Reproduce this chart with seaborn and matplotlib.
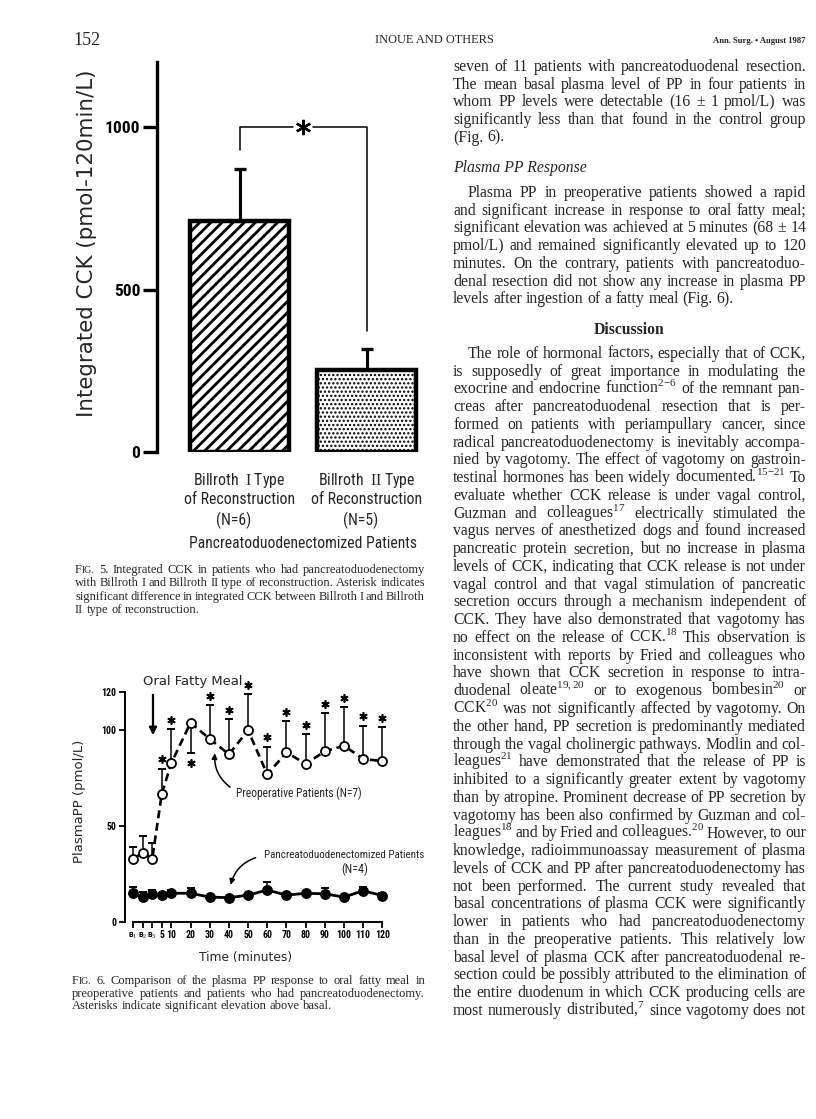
import matplotlib
matplotlib.use("Agg")
import matplotlib.pyplot as plt
from matplotlib import font_manager
from matplotlib.transforms import blended_transform_factory
import numpy as np
import pandas as pd
import seaborn as sns


# -------------------------------------
# Data - Fig. 5 (integrated CCK)
# -------------------------------------
cck_groups = ["Billroth I", "Billroth II"]
cck_mean = [710, 253]
cck_sem = [160, 65]
cck_hatch = ["///", "...."]
cck_n = ["(N=6)", "(N=5)"]
cck_roman = ["I", "II"]

# -------------------------------------
# Data - Fig. 6 (plasma PP)
# -------------------------------------
pp_time = [-10, -5, 0, 5, 10, 20, 30, 40, 50, 60, 70, 80, 90, 100, 110, 120]
pp_labels = ["B$_1$", "B$_2$", "B$_3$", "5", "10", "20", "30", "40", "50",
             "60", "70", "80", "90", "100", "110", "120"]
pre_mean = [33, 36, 33, 67, 83, 104, 95.5, 87.5, 100, 77, 88.5, 82.5, 89, 92, 85, 84]
pre_up = [6, 9, 8, 13, 17.5, 0, 17.5, 18.5, 19, 14.5, 16.5, 15.5, 20, 20, 17.5, 17.5]
pre_down = [0, 0, 0, 0, 0, 16, 0, 0, 0, 0, 0, 0, 0, 0, 0, 0]
pre_star = [False, False, False] + [True] * 13
post_mean = [15, 13, 14.5, 14, 15, 15, 13, 12.7, 14, 16.7, 14, 15, 14.7, 13, 16.3, 13.8]
post_up = [3.4, 2.8, 2.2, 1, 1.5, 3, 0, 0, 0.8, 4.3, 0.8, 1, 3.3, 0, 2.1, 1.2]


# -------------------------------------
# Page text
# -------------------------------------
cap5 = [
    "F|IG. 5. Integrated CCK in patients who had pancreatoduodenectomy",
    "with Billroth I and Billroth II type of reconstruction. Asterisk indicates",
    "significant difference in integrated CCK between Billroth I and Billroth",
    "II type of reconstruction.",
]
cap6 = [
    "F|IG. 6. Comparison of the plasma PP response to oral fatty meal in",
    "preoperative patients and patients who had pancreatoduodenectomy.",
    "Asterisks indicate significant elevation above basal.",
]
body_a = [
    "seven of 11 patients with pancreatoduodenal resection.",
    "The mean basal plasma level of PP in four patients in",
    "whom PP levels were detectable (16 ± 1 pmol/L) was",
    "significantly less than that found in the control group",
    "(Fig. 6).",
]
body_b = [
    "Plasma PP in preoperative patients showed a rapid",
    "and significant increase in response to oral fatty meal;",
    "significant elevation was achieved at 5 minutes (68 ± 14",
    "pmol/L) and remained significantly elevated up to 120",
    "minutes. On the contrary, patients with pancreatoduo-",
    "denal resection did not show any increase in plasma PP",
    "levels after ingestion of a fatty meal (Fig. 6).",
]
body_c = [
    "The role of hormonal factors, especially that of CCK,",
    "is supposedly of great importance in modulating the",
    "exocrine and endocrine function$^{2{-}6}$ of the remnant pan-",
    "creas after pancreatoduodenal resection that is per-",
    "formed on patients with periampullary cancer, since",
    "radical pancreatoduodenectomy is inevitably accompa-",
    "nied by vagotomy. The effect of vagotomy on gastroin-",
    "testinal hormones has been widely documented.$^{15{-}21}$ To",
    "evaluate whether CCK release is under vagal control,",
    "Guzman and colleagues$^{17}$ electrically stimulated the",
    "vagus nerves of anesthetized dogs and found increased",
    "pancreatic protein secretion, but no increase in plasma",
    "levels of CCK, indicating that CCK release is not under",
    "vagal control and that vagal stimulation of pancreatic",
    "secretion occurs through a mechanism independent of",
    "CCK. They have also demonstrated that vagotomy has",
    "no effect on the release of CCK.$^{18}$ This observation is",
    "inconsistent with reports by Fried and colleagues who",
    "have shown that CCK secretion in response to intra-",
    "duodenal oleate$^{19,20}$ or to exogenous bombesin$^{20}$ or",
    "CCK$^{20}$ was not significantly affected by vagotomy. On",
    "the other hand, PP secretion is predominantly mediated",
    "through the vagal cholinergic pathways. Modlin and col-",
    "leagues$^{21}$ have demonstrated that the release of PP is",
    "inhibited to a significantly greater extent by vagotomy",
    "than by atropine. Prominent decrease of PP secretion by",
    "vagotomy has been also confirmed by Guzman and col-",
    "leagues$^{18}$ and by Fried and colleagues.$^{20}$ However, to our",
    "knowledge, radioimmunoassay measurement of plasma",
    "levels of CCK and PP after pancreatoduodenectomy has",
    "not been performed. The current study revealed that",
    "basal concentrations of plasma CCK were significantly",
    "lower in patients who had pancreatoduodenectomy",
    "than in the preoperative patients. This relatively low",
    "basal level of plasma CCK after pancreatoduodenal re-",
    "section could be possibly attributed to the elimination of",
    "the entire duodenum in which CCK producing cells are",
    "most numerously distributed,$^{7}$ since vagotomy does not",
]


# -------------------------------------
# Style and fonts
# -------------------------------------
sns.set_theme(style="ticks", rc={"axes.edgecolor": "black",
                                 "xtick.color": "black",
                                 "ytick.color": "black"})

entries = font_manager.fontManager.ttflist
names = {f.name for f in entries}
NARROW, STRETCH = "Liberation Sans", "normal"
for cand in ["Liberation Sans Narrow", "Roboto Condensed", "Open Sans Condensed",
             "Noto Sans Condensed", "DejaVu Sans Condensed"]:
    if cand in names:
        NARROW = cand
        break
else:
    for f in entries:
        if f.name in ("Noto Sans", "DejaVu Sans", "Open Sans", "Roboto") and \
                f.stretch in ("condensed", "semi-condensed", 375):
            NARROW, STRETCH = f.name, "condensed"
            break
NK = dict(family=[NARROW, "DejaVu Sans"], fontstretch=STRETCH)

SERIF = "Liberation Serif"
plt.rcParams["font.family"] = ["DejaVu Sans"]
plt.rcParams["mathtext.fontset"] = "custom"
plt.rcParams["mathtext.rm"] = SERIF
plt.rcParams["mathtext.it"] = SERIF + ":italic"
plt.rcParams["mathtext.bf"] = SERIF + ":bold"
plt.rcParams["hatch.linewidth"] = 2.0
plt.rcParams["hatch.color"] = "black"

W, H = 816, 1119
fig = plt.figure(figsize=(W / 100, H / 100), dpi=100)
fig.patch.set_facecolor("white")
renderer = fig.canvas.get_renderer()


def fx(px):
    return px / W


def fy(py):
    return 1 - py / H


def fit(t, px):
    w = t.get_window_extent(renderer).width
    t.set_fontsize(t.get_fontsize() * px / w)
    return t


def label(x, y, s, width_px, rotation=0, **kw):
    t = fig.text(fx(x), fy(y), s, fontsize=10, **kw)
    fit(t, width_px)
    t.set_rotation(rotation)
    return t


def make_words(s, y, size, **kw):
    groups = []
    for w in s.split():
        g = []
        for k, p in enumerate(w.split("|")):
            sz = size if k == 0 else size * 0.78
            g.append(fig.text(0, fy(y), p, fontsize=sz, family=SERIF,
                              va="baseline", ha="left", **kw))
        groups.append(g)
    widths = [[t.get_window_extent(renderer).width for t in g] for g in groups]
    return groups, widths


def natural_width(s, size, space=0.16):
    groups, widths = make_words(s, 0, size)
    for g in groups:
        for t in g:
            t.remove()
    return sum(sum(w) for w in widths) + (len(groups) - 1) * size * 100 / 72 * space


def fit_size(lines, width, last_free=True, indent_first=0):
    sizes = []
    for i, s in enumerate(lines):
        if last_free and i == len(lines) - 1:
            continue
        avail = width - (indent_first if i == 0 else 0)
        sizes.append(10 * avail / natural_width(s, 10))
    return min(sizes)


def text_line(s, x0, x1, y, size, justify=True, indent=0, **kw):
    groups, widths = make_words(s, y, size, **kw)
    total = sum(sum(w) for w in widths)
    start = x0 + indent
    if justify and len(groups) > 1:
        gap = (x1 - start - total) / (len(groups) - 1)
    else:
        gap = size * 100 / 72 * 0.25
    x = start
    for g, ws in zip(groups, widths):
        for t, w in zip(g, ws):
            t.set_x(fx(x))
            x += w
        x += gap


# -------------------------------------
# Page header
# -------------------------------------
label(73, 45, "152", 27, family=SERIF, va="baseline")
label(375, 43, "INOUE AND OTHERS", 120, family=SERIF, va="baseline")
label(713, 43, "Ann. Surg. • August 1987", 93, family=SERIF,
      weight="bold", va="baseline")


# -------------------------------------
# Fig. 5 - bar chart
# -------------------------------------
ax5 = fig.add_axes([fx(157), fy(452), (420 - 157) / W, (452 - 62) / H])
df5 = pd.DataFrame({"group": cck_groups, "cck": cck_mean})
sns.barplot(data=df5, x="group", y="cck", ax=ax5, color="white", saturation=1,
            edgecolor="black", linewidth=3.2, width=0.78, errorbar=None)
for bar, h, hw in zip(ax5.patches, cck_hatch, [2.0, 1.1]):
    bar.set_hatch(h)
    if hasattr(bar, "set_hatch_linewidth"):
        bar.set_hatch_linewidth(hw)

xs = np.arange(len(cck_mean))
tops = np.array(cck_mean) + np.array(cck_sem)
ax5.vlines(xs, cck_mean, tops, color="black", lw=2.2, zorder=3)
ax5.plot(xs, tops, "_", color="black", ms=9, mew=2.4, zorder=3)

# significance bracket
yb = 1000
ax5.plot([0, 0, 0.42], [tops[0] + 60, yb, yb], color="black", lw=1.1)
ax5.plot([0.58, 1, 1], [yb, yb, tops[1] + 55], color="black", lw=1.1)
ax5.plot(0.5, yb, marker=(6, 2, 0), ms=11, mew=1.7, color="black")

ax5.set_xlim(-0.65, 1.42)
ax5.set_ylim(0, 1200)
ax5.set_yticks([0, 500, 1000])
ax5.set_xticks([])
ax5.set_xlabel("")
ax5.set_ylabel("")
sns.despine(ax=ax5, bottom=True)
ax5.spines["left"].set_linewidth(2.4)
ax5.tick_params(axis="y", length=10, width=2.4, pad=2, labelsize=12.5)
for t in ax5.get_yticklabels():
    t.set_family(NK["family"])
    t.set_stretch(STRETCH)
    t.set_weight("bold")

label(87, 243, "Integrated CCK (pmol-120min/L)", 347, rotation=90,
      ha="center", va="center")

tr5 = blended_transform_factory(ax5.transData, fig.transFigure)
ref = fig.text(0, 0, "of Reconstruction", fontsize=10, **NK)
fit(ref, 111)
cat_size = ref.get_fontsize()
ref.remove()
for i in range(len(cck_groups)):
    ax5.text(i, fy(480), "Billroth  $\\mathrm{" + cck_roman[i] + "}$ Type", transform=tr5,
             ha="center", va="center", fontsize=cat_size, **NK)
    ax5.text(i, fy(500), "of Reconstruction", transform=tr5, ha="center", va="center",
             fontsize=cat_size, **NK)
    ax5.text(i - 0.05, fy(520), cck_n[i], transform=tr5, ha="center", va="center",
             fontsize=cat_size, **NK)
t = ax5.text(0.5, fy(543), "Pancreatoduodenectomized Patients", transform=tr5,
             ha="center", va="center", fontsize=10, **NK)
fit(t, 226)

cap_size = min(fit_size(cap5, 350), fit_size(cap6, 353))
for i, s in enumerate(cap5):
    text_line(s, 75, 425, 570 + i * 13.3 + 3, cap_size, justify=(i < len(cap5) - 1))


# -------------------------------------
# Fig. 6 - line chart
# -------------------------------------
ax6 = fig.add_axes([fx(125), fy(922), (390 - 125) / W, (922 - 692) / H])
df6 = pd.DataFrame({
    "time": pp_time * 2,
    "pp": pre_mean + post_mean,
    "group": ["pre"] * len(pp_time) + ["post"] * len(pp_time),
})

# error bars (one-sided)
pre_m = np.array(pre_mean)
up = np.array(pre_up)
dn = np.array(pre_down)
tx = np.array(pp_time)
k = up > 0
ax6.vlines(tx[k], pre_m[k], pre_m[k] + up[k], color="black", lw=1.1, zorder=2)
ax6.plot(tx[k], pre_m[k] + up[k], "_", color="black", ms=6, mew=1.4, zorder=2, clip_on=False)
k = dn > 0
ax6.vlines(tx[k], pre_m[k] - dn[k], pre_m[k], color="black", lw=1.1, zorder=2)
ax6.plot(tx[k], pre_m[k] - dn[k], "_", color="black", ms=6, mew=1.4, zorder=2)

post_m = np.array(post_mean)
pu = np.array(post_up)
k = pu > 0
ax6.vlines(tx[k], post_m[k], post_m[k] + pu[k], color="black", lw=1.1, zorder=2)
ax6.plot(tx[k], post_m[k] + pu[k], "_", color="black", ms=6, mew=1.4, zorder=2)

sns.lineplot(data=df6[df6.group == "pre"], x="time", y="pp", ax=ax6, color="black",
             errorbar=None, linestyle=(0, (3, 1.8)), lw=1.9, marker="o", ms=6.5,
             mfc="white", mec="black", mew=1.3, zorder=4)
sns.lineplot(data=df6[df6.group == "post"], x="time", y="pp", ax=ax6, color="black",
             errorbar=None, lw=2.0, marker="o", ms=6.8, mfc="black",
             mec="black", mew=1.0, zorder=4)

# asterisks for significant elevation
st = np.array(pre_star)
star_y = np.where(up > 0, pre_m + up + 4.8, pre_m - dn - 4.8)
ax6.plot(tx[st], star_y[st], linestyle="none", marker=(6, 2, 0), ms=6, mew=1.2,
         color="black", clip_on=False, zorder=5)

ax6.set_xlim(-14.2, 124)
ax6.set_ylim(0, 120)
ax6.set_xticks(pp_time)
ax6.set_xticklabels(pp_labels)
ax6.set_yticks([0, 50, 100, 120])
ax6.set_xlabel("")
ax6.set_ylabel("")
sns.despine(ax=ax6)
ax6.spines["bottom"].set_bounds(-10, 120)
for sp in ["left", "bottom"]:
    ax6.spines[sp].set_linewidth(1.4)
ax6.tick_params(axis="both", length=4, width=1.3, pad=2, labelsize=7)
for t in ax6.get_xticklabels() + ax6.get_yticklabels():
    t.set_family(NK["family"])
    t.set_stretch(STRETCH)
    t.set_weight("bold")
for t in ax6.get_xticklabels()[:3]:
    t.set_fontsize(6)

# annotations
ax6.annotate("", xy=(0.4, 96), xytext=(0.4, 120), annotation_clip=False,
             arrowprops=dict(arrowstyle="-|>", color="black", lw=1.6, mutation_scale=11))
ax6.annotate("", xy=(32.8, 89.5), xytext=(41.7, 69.5), annotation_clip=False,
             arrowprops=dict(arrowstyle="-|>", color="black", lw=1.1, mutation_scale=8,
                             connectionstyle="arc3,rad=-0.3"))
ax6.annotate("", xy=(40.6, 18), xytext=(55.3, 34), annotation_clip=False,
             arrowprops=dict(arrowstyle="-|>", color="black", lw=1.1, mutation_scale=8,
                             connectionstyle="arc3,rad=0.3"))

label(143, 681, "Oral Fatty Meal", 100, va="center")
label(236, 793, "Preoperative Patients (N=7)", 125, va="center", **NK)
label(264, 855, "Pancreatoduodenectomized Patients", 159, va="center", **NK)
label(341, 869, "(N=4)", 27, va="center", **NK)
label(80, 801, "PlasmaPP (pmol/L)", 123, rotation=90, ha="center", va="center")
label(199, 958, "Time (minutes)", 93, va="center")

for i, s in enumerate(cap6):
    text_line(s, 72, 425, 981 + i * 12.6 + 3, cap_size, justify=(i < len(cap6) - 1))


# -------------------------------------
# Right column body text
# -------------------------------------
X0, X1 = 453, 806
STEP = 17.76
OFF = 3.8
BODY = min(fit_size(body_a, X1 - X0),
           fit_size(body_b, X1 - X0, indent_first=15),
           fit_size(body_c, X1 - X0, last_free=False, indent_first=15))

for i, s in enumerate(body_a):
    text_line(s, X0, X1, 67 + i * STEP + OFF, BODY, justify=(i < len(body_a) - 1))

fig.text(fx(X0), fy(168 + OFF), "Plasma PP Response", fontsize=BODY,
         family=SERIF, style="italic", va="baseline")

for i, s in enumerate(body_b):
    text_line(s, X0, X1, 193 + i * STEP + OFF, BODY, justify=(i < len(body_b) - 1),
              indent=15 if i == 0 else 0)

fig.text(fx((X0 + X1) / 2), fy(330 + OFF), "Discussion", fontsize=BODY,
         family=SERIF, weight="bold", va="baseline", ha="center")

for i, s in enumerate(body_c):
    text_line(s, X0, X1, 354 + i * STEP + OFF, BODY, indent=15 if i == 0 else 0)


fig.savefig("out.png", dpi=100, facecolor="white")
